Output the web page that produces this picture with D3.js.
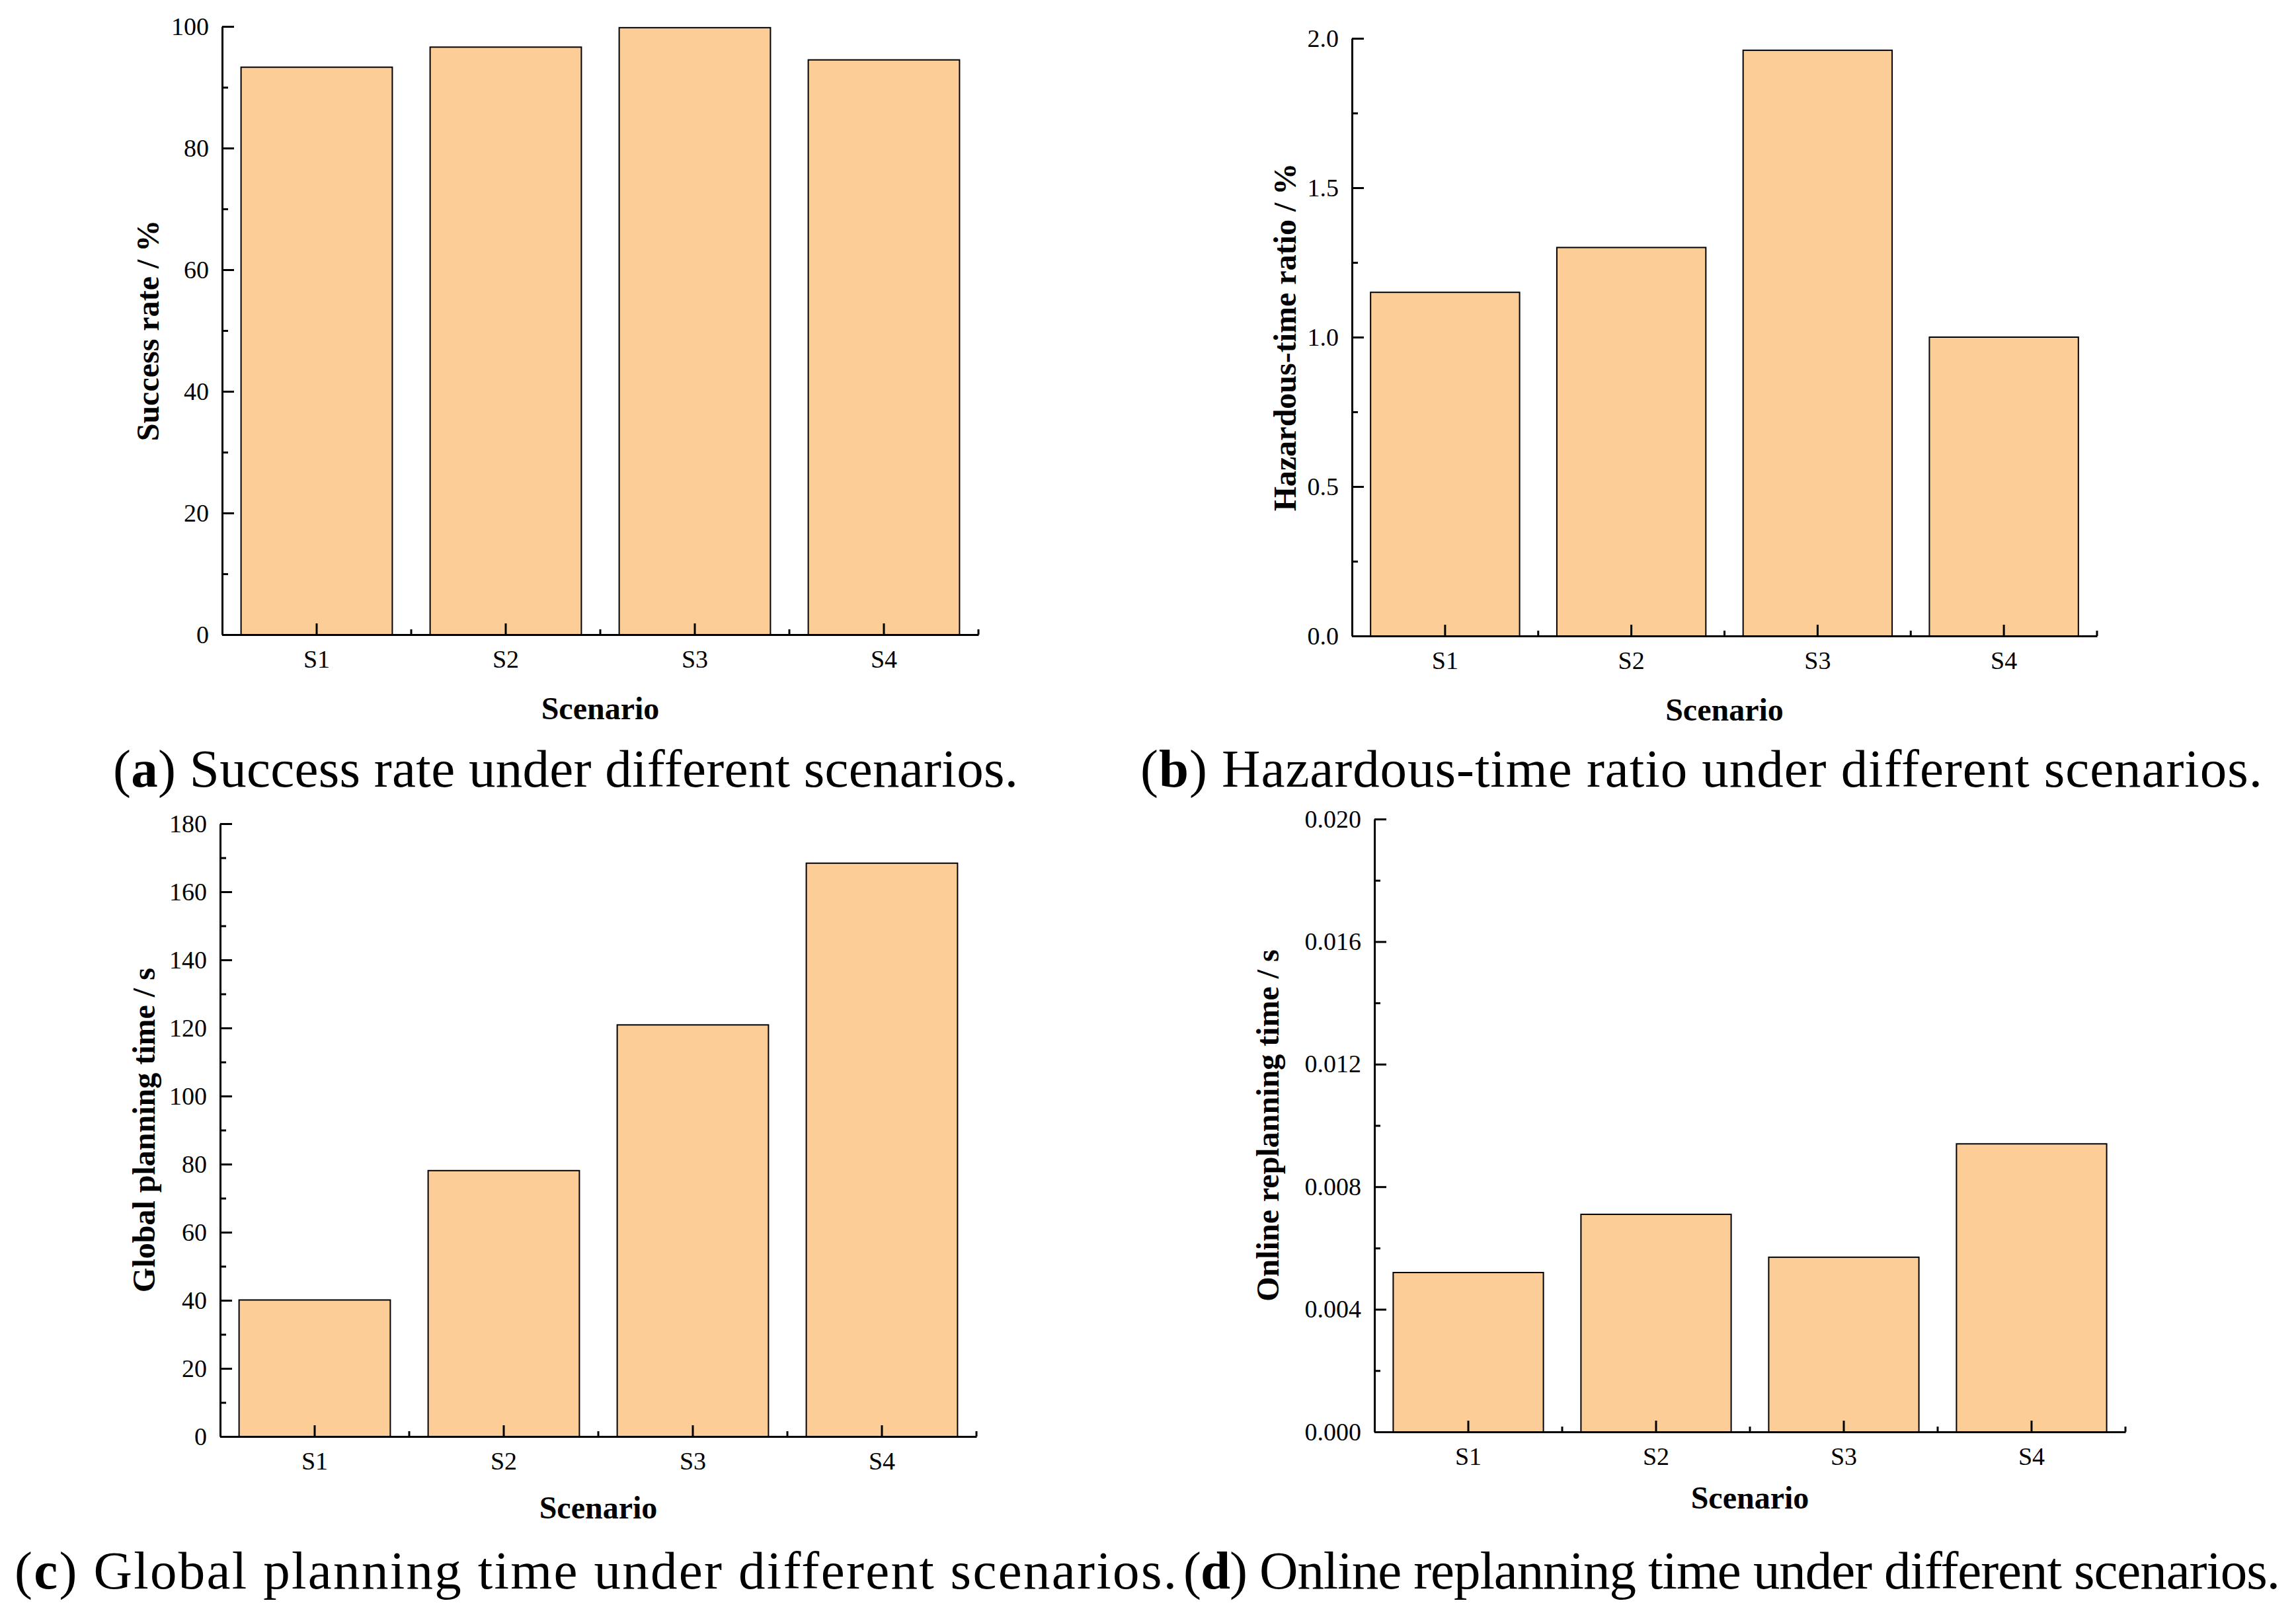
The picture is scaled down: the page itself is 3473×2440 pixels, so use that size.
<!DOCTYPE html>
<html>
<head>
<meta charset="utf-8">
<script src="https://cdn.jsdelivr.net/npm/d3@7"></script>
<style>
  body { margin: 0; background: #fff; }
  text { font-family: "Liberation Serif", "Times New Roman", serif; fill: #000; }
</style>
</head>
<body>
<div id="chart"></div>
<script>
// scenario_bars.js

const scenarios = ["S1", "S2", "S3", "S4"];

// values
const successRate = [93.3, 96.6, 99.8, 94.5];
const hazardRatio = [1.15, 1.30, 1.96, 1.00];
const globalTime = [40.1, 78.1, 120.9, 168.4];
const replanTime = [0.0052, 0.0071, 0.0057, 0.0094];

// y tick values (major / minor)
const successTicks = [0, 20, 40, 60, 80, 100];
const successMinor = [10, 30, 50, 70, 90];
const hazardTicks = [0, 0.5, 1.0, 1.5, 2.0];
const hazardMinor = [0.25, 0.75, 1.25, 1.75];
const globalTicks = [0, 20, 40, 60, 80, 100, 120, 140, 160, 180];
const globalMinor = [10, 30, 50, 70, 90, 110, 130, 150, 170];
const replanTicks = [0, 0.004, 0.008, 0.012, 0.016, 0.020];
const replanMinor = [0.002, 0.006, 0.010, 0.014, 0.018];

const yTitles = ["Success rate / %", "Hazardous-time ratio / %", "Global planning time / s", "Online replanning time / s"];
const xTitle = "Scenario";
const capLetters = ["a", "b", "c", "d"];
const capTexts = [
  " Success rate under different scenarios.",
  " Hazardous-time ratio under different scenarios.",
  " Global planning time under different scenarios.",
  " Online replanning time under different scenarios."
];

const W = 3473, H = 2440;
const barFill = "#FDCD97";

const svg = d3.select("#chart").append("svg")
  .attr("width", W)
  .attr("height", H)
  .attr("viewBox", `0 0 ${W} ${H}`);

// layout for each panel (pixels)
const panels = [
  { values: successRate, ticks: successTicks, minor: successMinor, fmt: d => d,
    left: 336, right: 1480, top: 40, bottom: 960, yTitleX: 240, xTitleY: 1088,
    capX: 171, capLen: 1369, capY: 1190 },
  { values: hazardRatio, ticks: hazardTicks, minor: hazardMinor, fmt: d3.format(".1f"),
    left: 2045, right: 3172, top: 58, bottom: 962, yTitleX: 1960, xTitleY: 1090,
    capX: 1725, capLen: 1697, capY: 1190 },
  { values: globalTime, ticks: globalTicks, minor: globalMinor, fmt: d => d,
    left: 333, right: 1477, top: 1246, bottom: 2173, yTitleX: 234, xTitleY: 2297,
    capX: 22, capLen: 1758, capY: 2403 },
  { values: replanTime, ticks: replanTicks, minor: replanMinor, fmt: d3.format(".3f"),
    left: 2079, right: 3215, top: 1239, bottom: 2166, yTitleX: 1934, xTitleY: 2282,
    capX: 1790, capLen: 1659, capY: 2403 }
];

panels.forEach((p, i) => {
  const g = svg.append("g");

  const x = d3.scaleBand()
    .domain(scenarios)
    .range([p.left, p.right])
    .paddingInner(0.2)
    .paddingOuter(0.1);

  const y = d3.scaleLinear()
    .domain([p.ticks[0], p.ticks[p.ticks.length - 1]])
    .range([p.bottom, p.top]);

  // bars
  g.selectAll("rect.bar")
    .data(p.values)
    .enter()
    .append("rect")
    .attr("class", "bar")
    .attr("x", (d, j) => x(scenarios[j]))
    .attr("y", d => y(d))
    .attr("width", x.bandwidth())
    .attr("height", d => y(0) - y(d))
    .attr("fill", barFill)
    .attr("stroke", "#000")
    .attr("stroke-width", 2);

  // y axis, ticks point inward
  const yAxis = g.append("g")
    .attr("transform", `translate(${p.left},0)`)
    .call(d3.axisLeft(y).tickValues(p.ticks).tickFormat(p.fmt)
      .tickSizeInner(-18).tickSizeOuter(0).tickPadding(20));
  yAxis.select(".domain").attr("stroke-width", 3);
  yAxis.selectAll(".tick line").attr("stroke-width", 3);
  yAxis.selectAll("text").style("font-size", "38px");

  const yMinor = g.append("g")
    .attr("transform", `translate(${p.left},0)`)
    .call(d3.axisLeft(y).tickValues(p.minor).tickFormat("")
      .tickSizeInner(-9).tickSizeOuter(0));
  yMinor.select(".domain").remove();
  yMinor.selectAll(".tick line").attr("stroke-width", 3);

  // x axis
  const xAxis = g.append("g")
    .attr("transform", `translate(0,${p.bottom})`)
    .call(d3.axisBottom(x).tickSizeInner(-17).tickSizeOuter(0).tickPadding(23));
  xAxis.select(".domain").attr("stroke-width", 3);
  xAxis.selectAll(".tick line").attr("stroke-width", 3);
  xAxis.selectAll("text").style("font-size", "38px");

  // minor ticks between categories
  const bounds = scenarios.map(s => x(s) - x.step() * x.paddingOuter());
  bounds.push(p.right);
  g.selectAll("line.xminor")
    .data(bounds.slice(1))
    .enter()
    .append("line")
    .attr("x1", d => d).attr("x2", d => d)
    .attr("y1", p.bottom).attr("y2", p.bottom - 8)
    .attr("stroke", "#000")
    .attr("stroke-width", 3);

  // axis titles
  g.append("text")
    .attr("transform", `translate(${p.yTitleX},${(p.top + p.bottom) / 2}) rotate(-90)`)
    .attr("text-anchor", "middle")
    .style("font-size", "48px")
    .style("font-weight", "bold")
    .text(yTitles[i]);

  g.append("text")
    .attr("x", (p.left + p.right) / 2)
    .attr("y", p.xTitleY)
    .attr("text-anchor", "middle")
    .style("font-size", "48px")
    .style("font-weight", "bold")
    .text(xTitle);

  // caption
  const cap = g.append("text")
    .attr("x", p.capX)
    .attr("y", p.capY)
    .attr("textLength", p.capLen)
    .attr("lengthAdjust", "spacing")
    .style("font-size", "81px");
  cap.append("tspan").text("(");
  cap.append("tspan").style("font-weight", "bold").text(capLetters[i]);
  cap.append("tspan").text(")" + capTexts[i]);
});
</script>
</body>
</html>
